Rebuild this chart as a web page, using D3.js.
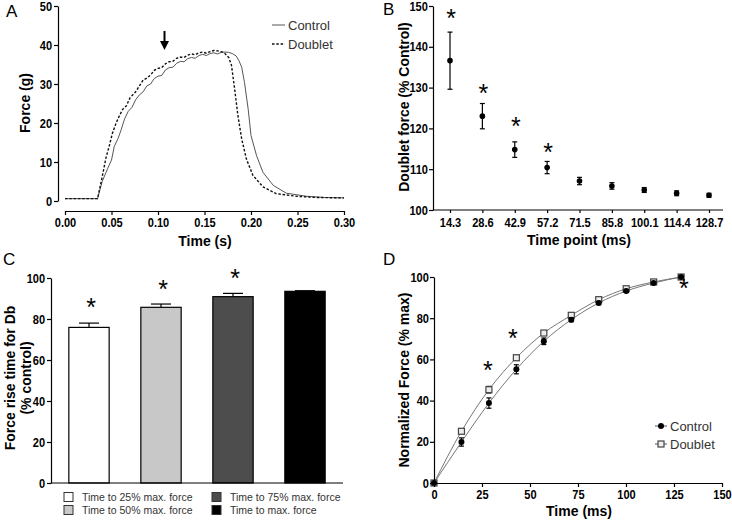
<!DOCTYPE html>
<html>
<head>
<meta charset="utf-8">
<script src="https://cdn.jsdelivr.net/npm/d3@7"></script>
<style>body{margin:0;background:#fff}</style>
</head>
<body>
<div id="main"></div>
<script>
'use strict';

// Panel A: force traces (s, g)
var controlT = [0, 0.035, 0.040, 0.046, 0.050, 0.053, 0.057, 0.060, 0.064, 0.068, 0.072, 0.076, 0.080, 0.084, 0.088, 0.092, 0.096, 0.100, 0.104, 0.108, 0.112, 0.116, 0.120, 0.124, 0.128, 0.132, 0.136, 0.140, 0.144, 0.148, 0.152, 0.156, 0.160, 0.164, 0.168, 0.172, 0.176, 0.180, 0.184, 0.187, 0.190, 0.193, 0.197, 0.200, 0.206, 0.213, 0.224, 0.238, 0.260, 0.280, 0.300];
var controlF = [0.6, 0.6, 5.0, 8.4, 10.5, 14.0, 16.0, 18.0, 21.0, 23.0, 24.0, 26.0, 27.2, 28.0, 29.5, 30.0, 31.4, 32.0, 32.2, 33.6, 34.2, 34.3, 35.3, 35.8, 35.7, 36.5, 36.8, 36.6, 37.3, 37.6, 37.3, 37.8, 38.0, 37.7, 38.1, 38.2, 38.1, 37.8, 37.2, 36.0, 34.3, 30.4, 23.5, 16.8, 11.6, 7.3, 4.0, 2.0, 1.2, 0.9, 0.8];
var doubletT = [0, 0.035, 0.040, 0.044, 0.048, 0.051, 0.055, 0.058, 0.062, 0.066, 0.070, 0.076, 0.080, 0.084, 0.088, 0.092, 0.096, 0.100, 0.104, 0.108, 0.112, 0.116, 0.120, 0.124, 0.128, 0.132, 0.136, 0.140, 0.144, 0.148, 0.152, 0.156, 0.160, 0.164, 0.168, 0.172, 0.176, 0.179, 0.182, 0.186, 0.190, 0.195, 0.202, 0.213, 0.227, 0.249, 0.270, 0.300];
var doubletF = [0.6, 0.6, 6.2, 11.0, 14.5, 17.4, 20.0, 21.6, 23.5, 24.4, 26.5, 28.0, 29.5, 31.0, 31.5, 32.3, 33.5, 34.0, 34.2, 35.2, 35.7, 35.8, 36.6, 36.9, 36.8, 37.4, 37.7, 37.5, 38.0, 38.2, 37.9, 38.3, 38.6, 38.5, 38.3, 37.8, 36.8, 34.8, 29.5, 21.8, 15.9, 10.8, 6.6, 3.6, 1.9, 1.2, 0.9, 0.8];
var seriesNames = ['Control', 'Doublet'];

// Panel B: doublet force at each time point
var timePoints = ['14.3', '28.6', '42.9', '57.2', '71.5', '85.8', '100.1', '114.4', '128.7'];
var ratioMean = [136.6, 123.0, 114.8, 110.4, 107.1, 105.9, 104.9, 104.1, 103.6];
var ratioErr = [7.0, 3.1, 1.9, 1.5, 0.9, 0.8, 0.6, 0.6, 0.5];
var ratioStars = [148.3, 130.0, 121.7, 115.4];

// Panel C: rise times
var riseLabels = ['Time to 25% max. force', 'Time to 50% max. force', 'Time to 75% max. force', 'Time to max. force'];
var riseMean = [75.9, 85.7, 90.9, 93.5];
var riseErr = [2.1, 1.6, 1.6, 0.3];
var riseStars = [88.3, 97.1, 102.4];

// Panel D: normalized force
var normT = [0, 14.3, 28.6, 42.9, 57.2, 71.5, 85.8, 100.1, 114.4, 128.7];
var normControl = [0, 19.9, 38.8, 55.2, 68.8, 79.3, 87.4, 93.2, 97.1, 100];
var normControlErr = [0, 2.0, 2.5, 2.2, 1.6, 1.0, 0.8, 0.6, 0.5, 0.5];
var normDoublet = [0, 25.1, 45.3, 60.8, 72.8, 81.4, 89.0, 94.3, 97.6, 100];
var normDoubletErr = [0, 1.0, 1.6, 1.1, 0.8, 0.6, 0.5, 0.4, 0.4, 0.4];
var normStarT = [28.1, 41.1, 130.2];
var normStarY = [57.3, 72.8, 97.1];

var font = '"Liberation Sans", Arial, sans-serif';

var svg = d3.select('#main').append('svg')
	.attr('width', 732)
	.attr('height', 520)
	.style('background-color', 'white');

// bold condensed tick labels (squeezed horizontally like the original)
function styleAxis(g) {
	g.select('.domain').attr('stroke', '#000').attr('stroke-width', 1.2);
	g.selectAll('.tick line').attr('stroke', '#000').attr('stroke-width', 1.2);
	g.selectAll('text')
		.attr('font-family', font)
		.attr('font-weight', 'bold')
		.attr('font-size', 13)
		.attr('fill', '#000')
		.attr('transform', 'scale(0.85,1)');
}

function title(txt, x, y, rotate) {
	var t = svg.append('text')
		.attr('text-anchor', 'middle')
		.attr('font-family', font)
		.attr('font-weight', 'bold')
		.attr('font-size', 14)
		.text(txt);
	if (rotate) {
		t.attr('transform', 'translate(' + x + ',' + y + ') rotate(-90)');
	} else {
		t.attr('x', x).attr('y', y);
	}
	return t;
}

function letter(txt, x, y) {
	svg.append('text').attr('x', x).attr('y', y)
		.attr('font-family', font).attr('font-size', 17)
		.text(txt);
}

function star(g, x, y) {
	g.append('text').attr('x', x).attr('y', y + 14)
		.attr('text-anchor', 'middle')
		.attr('font-family', font)
		.attr('font-size', 25)
		.text('*');
}

// ---------- Panel A ----------
var xA = d3.scaleLinear().domain([0, 0.30]).range([65, 344]);
var yA = d3.scaleLinear().domain([0, 50]).range([201, 6]);
var gA = svg.append('g');

gA.append('g').attr('transform', 'translate(0,211)')
	.call(d3.axisBottom(xA).tickValues([0, 0.05, 0.10, 0.15, 0.20, 0.25, 0.30])
		.tickFormat(d3.format('.2f')).tickSize(4).tickSizeOuter(0).tickPadding(3))
	.call(styleAxis);
gA.append('g').attr('transform', 'translate(58,0)')
	.call(d3.axisLeft(yA).ticks(5).tickSize(4).tickSizeOuter(0).tickPadding(3))
	.call(styleAxis);

var lineA = d3.line().x(function (d) { return xA(d[0]); }).y(function (d) { return yA(d[1]); });
gA.append('path').datum(d3.zip(controlT, controlF))
	.attr('d', lineA).attr('fill', 'none').attr('stroke', '#555').attr('stroke-width', 1);
gA.append('path').datum(d3.zip(doubletT, doubletF))
	.attr('d', lineA).attr('fill', 'none').attr('stroke', '#111').attr('stroke-width', 1.4)
	.attr('stroke-dasharray', '2.5,1.8');

// arrow marking the doublet
var arrowX = xA(0.107);
gA.append('line').attr('x1', arrowX).attr('x2', arrowX)
	.attr('y1', yA(43.6)).attr('y2', yA(40.5))
	.attr('stroke', '#000').attr('stroke-width', 2);
gA.append('path')
	.attr('d', 'M' + (arrowX - 4.5) + ',' + yA(41) + 'L' + (arrowX + 4.5) + ',' + yA(41) + 'L' + arrowX + ',' + yA(38.7) + 'Z')
	.attr('fill', '#000');

// legend A
seriesNames.forEach(function (name, i) {
	var ly = 25 + i * 19;
	gA.append('line').attr('x1', 272).attr('x2', 285).attr('y1', ly).attr('y2', ly)
		.attr('stroke', i ? '#111' : '#555').attr('stroke-width', i ? 1.4 : 1)
		.attr('stroke-dasharray', i ? '2.5,1.8' : null);
	gA.append('text').attr('x', 288).attr('y', ly + 4.5)
		.attr('font-family', font).attr('font-size', 13).attr('fill', '#333')
		.text(name);
});

title('Time (s)', 205, 246);
title('Force (g)', 30, 103, true);
letter('A', 6, 17);

// ---------- Panel B ----------
var xB = d3.scalePoint().domain(timePoints).range([450, 709]);
var yB = d3.scaleLinear().domain([100, 150]).range([210, 6]);
var gB = svg.append('g');

gB.append('g').attr('transform', 'translate(0,210)')
	.call(d3.axisBottom(xB).tickSize(3).tickPadding(5))
	.call(styleAxis)
	.select('.domain').attr('d', 'M433,0H723');
gB.append('g').attr('transform', 'translate(433,0)')
	.call(d3.axisLeft(yB).ticks(5).tickSize(4).tickSizeOuter(0).tickPadding(2))
	.call(styleAxis);

timePoints.forEach(function (tp, i) {
	var cx = xB(tp);
	var hi = yB(ratioMean[i] + ratioErr[i]), lo = yB(ratioMean[i] - ratioErr[i]);
	gB.append('line').attr('x1', cx).attr('x2', cx).attr('y1', hi).attr('y2', lo)
		.attr('stroke', '#000').attr('stroke-width', 1.2);
	[hi, lo].forEach(function (yy) {
		gB.append('line').attr('x1', cx - 2.5).attr('x2', cx + 2.5).attr('y1', yy).attr('y2', yy)
			.attr('stroke', '#000').attr('stroke-width', 1.2);
	});
	gB.append('circle').attr('cx', cx).attr('cy', yB(ratioMean[i])).attr('r', 2.8).attr('fill', '#000');
});
ratioStars.forEach(function (v, i) { star(gB, xB(timePoints[i]) + 1, yB(v)); });

title('Time point (ms)', 579, 245);
title('Doublet force (% Control)', 409, 107, true);
letter('B', 383, 15);

// ---------- Panel C ----------
var xC = d3.scaleBand().domain(riseLabels).range([53, 341]).paddingInner(0.44).paddingOuter(0.22);
var yC = d3.scaleLinear().domain([0, 100]).range([483, 278]);
var barFill = ['#ffffff', '#c8c8c8', '#4d4d4d', '#000000'];
var gC = svg.append('g');

gC.selectAll('rect.bar').data(riseLabels).enter().append('rect')
	.attr('class', 'bar')
	.attr('x', function (d) { return xC(d); })
	.attr('width', xC.bandwidth())
	.attr('y', function (d, i) { return yC(riseMean[i]); })
	.attr('height', function (d, i) { return yC(0) - yC(riseMean[i]); })
	.attr('fill', function (d, i) { return barFill[i]; })
	.attr('stroke', '#000').attr('stroke-width', 1.2);

riseLabels.forEach(function (lab, i) {
	var cx = xC(lab) + xC.bandwidth() / 2;
	var top = yC(riseMean[i]), hi = yC(riseMean[i] + riseErr[i]);
	gC.append('line').attr('x1', cx).attr('x2', cx).attr('y1', top).attr('y2', hi)
		.attr('stroke', '#000').attr('stroke-width', 1.2);
	gC.append('line').attr('x1', cx - 10).attr('x2', cx + 10).attr('y1', hi).attr('y2', hi)
		.attr('stroke', '#000').attr('stroke-width', 1.2);
});
riseStars.forEach(function (v, i) { star(gC, xC(riseLabels[i]) + xC.bandwidth() / 2 + 2, yC(v)); });

gC.append('g').attr('transform', 'translate(0,483)')
	.call(d3.axisBottom(xC).tickSize(0).tickFormat(''))
	.call(styleAxis)
	.select('.domain').attr('d', 'M51,0H343');
gC.append('g').attr('transform', 'translate(51,0)')
	.call(d3.axisLeft(yC).ticks(5).tickSize(4).tickSizeOuter(0).tickPadding(3))
	.call(styleAxis);

// legend C
riseLabels.forEach(function (lab, i) {
	var lx = i < 2 ? 64 : 212;
	var ly = i % 2 === 0 ? 497 : 510;
	gC.append('rect').attr('x', lx).attr('y', ly - 4.5).attr('width', 9).attr('height', 9)
		.attr('fill', barFill[i]).attr('stroke', '#333').attr('stroke-width', 1);
	gC.append('text').attr('x', lx + 18).attr('y', ly + 4)
		.attr('font-family', font).attr('font-size', 10.5).attr('fill', '#333')
		.text(lab);
});

title('Force rise time for Db', 15, 378, true);
title('(% control)', 31, 378, true);
letter('C', 3, 265);

// ---------- Panel D ----------
var xD = d3.scaleLinear().domain([0, 150]).range([434, 722]);
var yD = d3.scaleLinear().domain([0, 100]).range([483, 277]);
var gD = svg.append('g');

var lineD = d3.line().curve(d3.curveMonotoneX)
	.x(function (d) { return xD(d[0]); }).y(function (d) { return yD(d[1]); });
gD.append('path').datum(d3.zip(normT, normControl))
	.attr('d', lineD).attr('fill', 'none').attr('stroke', '#777').attr('stroke-width', 1);
gD.append('path').datum(d3.zip(normT, normDoublet))
	.attr('d', lineD).attr('fill', 'none').attr('stroke', '#777').attr('stroke-width', 1);

function errBar(g, x, m, e) {
	if (!e) return;
	var hi = yD(m + e), lo = yD(m - e);
	g.append('line').attr('x1', x).attr('x2', x).attr('y1', hi).attr('y2', lo)
		.attr('stroke', '#000').attr('stroke-width', 1.2);
	[hi, lo].forEach(function (yy) {
		g.append('line').attr('x1', x - 2.5).attr('x2', x + 2.5).attr('y1', yy).attr('y2', yy)
			.attr('stroke', '#000').attr('stroke-width', 1.2);
	});
}

normT.forEach(function (t, i) {
	errBar(gD, xD(t), normDoublet[i], normDoubletErr[i]);
	gD.append('rect').attr('x', xD(t) - 3).attr('y', yD(normDoublet[i]) - 3)
		.attr('width', 6).attr('height', 6)
		.attr('fill', '#eee').attr('stroke', '#444').attr('stroke-width', 1.2);
});
normT.forEach(function (t, i) {
	errBar(gD, xD(t), normControl[i], normControlErr[i]);
	gD.append('circle').attr('cx', xD(t)).attr('cy', yD(normControl[i])).attr('r', 3).attr('fill', '#000');
});
normStarT.forEach(function (t, i) { star(gD, xD(t), yD(normStarY[i])); });

gD.append('g').attr('transform', 'translate(0,483)')
	.call(d3.axisBottom(xD).tickValues([0, 25, 50, 75, 100, 125, 150]).tickSize(4).tickSizeOuter(0).tickPadding(3))
	.call(styleAxis);
gD.append('g').attr('transform', 'translate(434,0)')
	.call(d3.axisLeft(yD).ticks(5).tickSize(4).tickSizeOuter(0).tickPadding(2))
	.call(styleAxis);

// legend D
seriesNames.forEach(function (name, i) {
	var ly = 426 + i * 18;
	gD.append('line').attr('x1', 655).attr('x2', 667).attr('y1', ly).attr('y2', ly)
		.attr('stroke', '#555').attr('stroke-width', 1);
	if (i === 0) {
		gD.append('circle').attr('cx', 661).attr('cy', ly).attr('r', 3).attr('fill', '#000');
	} else {
		gD.append('rect').attr('x', 658).attr('y', ly - 3).attr('width', 6).attr('height', 6)
			.attr('fill', '#eee').attr('stroke', '#444').attr('stroke-width', 1.2);
	}
	gD.append('text').attr('x', 670).attr('y', ly + 4.5)
		.attr('font-family', font).attr('font-size', 13).attr('fill', '#333')
		.text(name);
});

title('Time (ms)', 579, 516);
title('Normalized Force (% max)', 409, 380, true);
letter('D', 383, 265);
</script>
</body>
</html>
